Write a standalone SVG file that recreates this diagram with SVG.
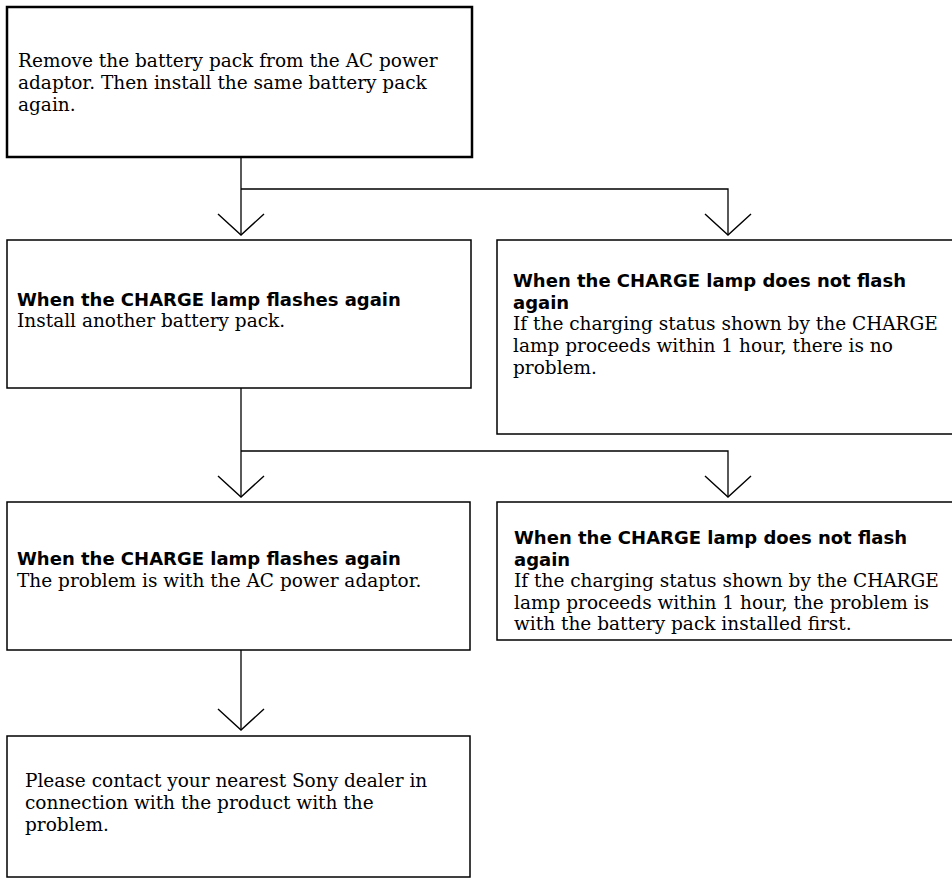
<svg xmlns="http://www.w3.org/2000/svg" width="952" height="880" viewBox="0 0 952 880">
<style>
.box{fill:#fff;stroke:#000;stroke-width:1.5}
.thick{stroke-width:2.5}
.b{font-family:"DejaVu Sans","Liberation Sans",sans-serif;font-weight:bold;font-size:18px;fill:#000}
.t{font-family:"DejaVu Serif","Liberation Serif",serif;font-size:18.5px;fill:#000}
.c{fill:none;stroke:#000;stroke-width:1.3}
</style>
<defs>
<marker id="v" markerUnits="userSpaceOnUse" viewBox="-24 -25 26 50" refX="0" refY="0" markerWidth="26" markerHeight="50" orient="auto" overflow="visible">
<path d="M-21,-23 L0,0 L-21,23" fill="none" stroke="#000" stroke-width="1.4"/>
</marker>
</defs>
<rect width="952" height="880" fill="#fff"/>
<g id="connectors">
<path class="c" d="M241,158 V235" marker-end="url(#v)"/>
<path class="c" d="M241,189 H728 V235" marker-end="url(#v)"/>
<path class="c" d="M241,388 V497" marker-end="url(#v)"/>
<path class="c" d="M241,451 H728 V497" marker-end="url(#v)"/>
<path class="c" d="M241,650 V730" marker-end="url(#v)"/>
</g>
<g id="start">
<rect class="box thick" x="7" y="7" width="465" height="150"/>
<text class="t" x="18" y="67">Remove the battery pack from the AC power</text>
<text class="t" x="18" y="89">adaptor. Then install the same battery pack</text>
<text class="t" x="18" y="111">again.</text>
</g>
<g id="flash1">
<rect class="box" x="7" y="240" width="464" height="148"/>
<text class="b" x="17" y="306">When the CHARGE lamp flashes again</text>
<text class="t" x="17" y="327">Install another battery pack.</text>
</g>
<g id="noflash1">
<rect class="box" x="497" y="240" width="470" height="194"/>
<text class="b" x="513" y="287">When the CHARGE lamp does not flash</text>
<text class="b" x="513" y="309">again</text>
<text class="t" x="513" y="330">If the charging status shown by the CHARGE</text>
<text class="t" x="513" y="352">lamp proceeds within 1 hour, there is no</text>
<text class="t" x="513" y="374">problem.</text>
</g>
<g id="flash2">
<rect class="box" x="7" y="502" width="463" height="148"/>
<text class="b" x="17" y="565">When the CHARGE lamp flashes again</text>
<text class="t" x="17" y="587">The problem is with the AC power adaptor.</text>
</g>
<g id="noflash2">
<rect class="box" x="497" y="502" width="470" height="138"/>
<text class="b" x="514" y="544">When the CHARGE lamp does not flash</text>
<text class="b" x="514" y="566">again</text>
<text class="t" x="514" y="587">If the charging status shown by the CHARGE</text>
<text class="t" x="514" y="609">lamp proceeds within 1 hour, the problem is</text>
<text class="t" x="514" y="630">with the battery pack installed first.</text>
</g>
<g id="contact">
<rect class="box" x="7" y="736" width="463" height="141"/>
<text class="t" x="25" y="787">Please contact your nearest Sony dealer in</text>
<text class="t" x="25" y="809">connection with the product with the</text>
<text class="t" x="25" y="831">problem.</text>
</g>
</svg>
